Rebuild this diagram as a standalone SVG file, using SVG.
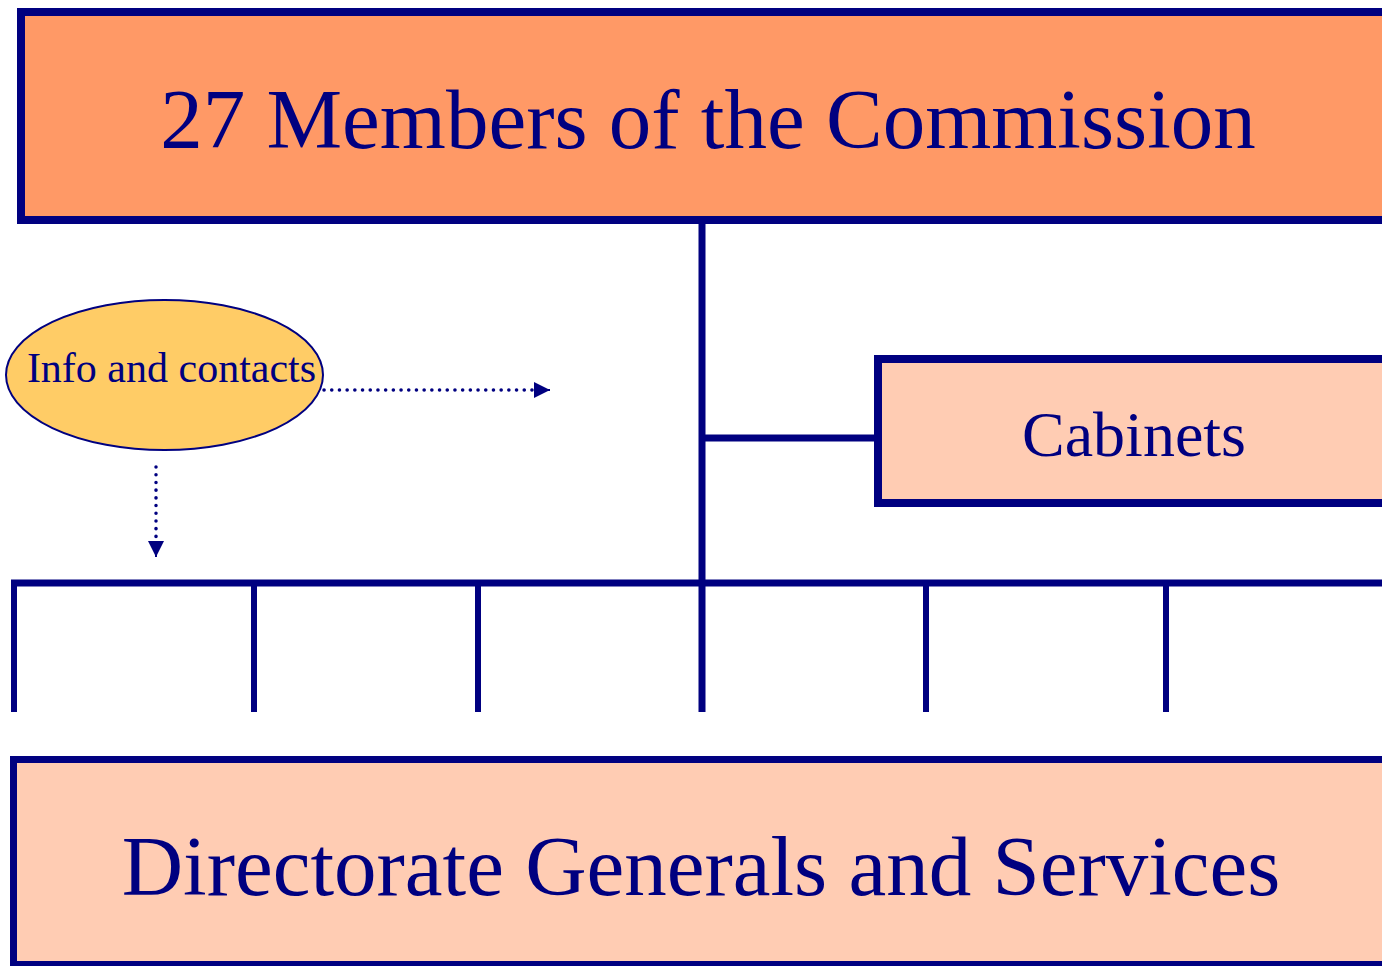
<svg xmlns="http://www.w3.org/2000/svg" width="1382" height="966" viewBox="0 0 1382 966">
<style>
.box{stroke:#000080;stroke-width:8}
.lbl{font-family:"Liberation Serif","Times New Roman",serif;fill:#000080;text-anchor:middle}
.ln{stroke:#000080;fill:none}
.dot{stroke:#000080;stroke-width:3.5;stroke-dasharray:0.1 7.6;stroke-linecap:round;fill:none}
</style>
<defs>
<marker id="ah" viewBox="0 0 10 10" refX="10" refY="5" markerWidth="16" markerHeight="16" markerUnits="userSpaceOnUse" orient="auto">
<path d="M0,0 L10,5 L0,10 Z" fill="#000080"/>
</marker>
</defs>
<rect width="1382" height="966" fill="#ffffff"/>
<g id="connectors">
<line class="ln" x1="702" y1="220" x2="702" y2="712" stroke-width="7"/>
<line class="ln" x1="702" y1="438" x2="878" y2="438" stroke-width="7"/>
<line class="ln" x1="11" y1="583" x2="1382" y2="583" stroke-width="7"/>
<line class="ln" x1="14" y1="583" x2="14" y2="712" stroke-width="6"/>
<line class="ln" x1="254" y1="583" x2="254" y2="712" stroke-width="6"/>
<line class="ln" x1="478" y1="583" x2="478" y2="712" stroke-width="6"/>
<line class="ln" x1="926" y1="583" x2="926" y2="712" stroke-width="6"/>
<line class="ln" x1="1166" y1="583" x2="1166" y2="712" stroke-width="6"/>
<path class="dot" d="M324,390 L536,390"/>
<path d="M536,390 L550,390" stroke="#000080" stroke-width="2" marker-end="url(#ah)"/>
<path class="dot" d="M156,467 L156,542"/>
<path d="M156,542 L156,557" stroke="#000080" stroke-width="2" marker-end="url(#ah)"/>
</g>
<g id="commission">
<rect class="box" x="21" y="12" width="1400" height="208" fill="#FF9966"/>
<text class="lbl" x="708" y="148" font-size="85">27 Members of the Commission</text>
</g>
<g id="cabinets">
<rect class="box" x="878" y="359" width="540" height="144" fill="#FFCCB3"/>
<text class="lbl" x="1134" y="456" font-size="64">Cabinets</text>
</g>
<g id="info">
<ellipse cx="164.5" cy="375" rx="158.5" ry="75" fill="#FFCC66" stroke="#000080" stroke-width="2"/>
<text class="lbl" x="171.5" y="382" font-size="42">Info and contacts</text>
</g>
<g id="dgs">
<rect x="13.5" y="759.5" width="1400" height="205" fill="#FFCCB3" stroke="#000080" stroke-width="7"/>
<text class="lbl" x="701" y="895" font-size="85">Directorate Generals and Services</text>
</g>
</svg>
